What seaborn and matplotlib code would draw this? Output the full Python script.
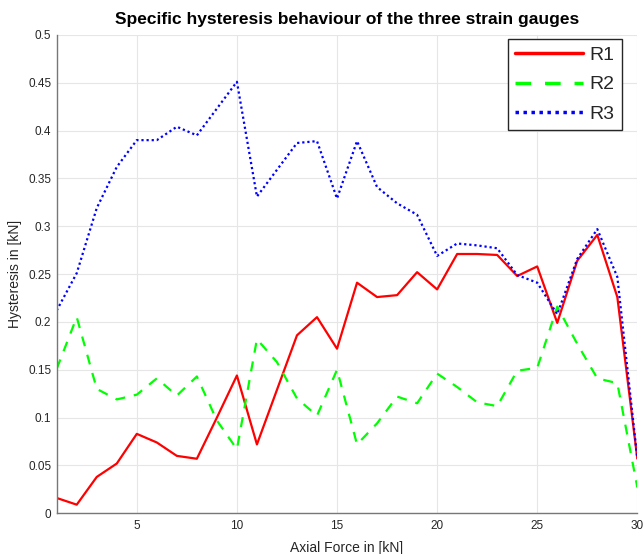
import numpy as np
import pandas as pd
import matplotlib
matplotlib.use("Agg")
import matplotlib.pyplot as plt
import seaborn as sns

force = list(range(1, 31))
r1 = [0.016, 0.009, 0.038, 0.052, 0.083, 0.074, 0.060, 0.057, 0.100, 0.144,
      0.072, 0.129, 0.186, 0.205, 0.172, 0.241, 0.226, 0.228, 0.252, 0.234,
      0.271, 0.271, 0.270, 0.248, 0.258, 0.199, 0.264, 0.291, 0.226, 0.057]
r2 = [0.151, 0.205, 0.130, 0.119, 0.124, 0.141, 0.123, 0.143, 0.097, 0.067,
      0.182, 0.158, 0.120, 0.102, 0.150, 0.072, 0.094, 0.122, 0.115, 0.146,
      0.132, 0.116, 0.112, 0.149, 0.152, 0.216, 0.177, 0.141, 0.136, 0.027]
r3 = [0.212, 0.251, 0.319, 0.362, 0.390, 0.390, 0.404, 0.395, 0.423, 0.451,
      0.331, 0.359, 0.387, 0.389, 0.329, 0.389, 0.341, 0.324, 0.312, 0.269,
      0.282, 0.280, 0.277, 0.249, 0.241, 0.208, 0.266, 0.297, 0.247, 0.057]
series_names = ["R1", "R2", "R3"]
x_ticks = [5, 10, 15, 20, 25, 30]
y_ticks = [0, 0.05, 0.1, 0.15, 0.2, 0.25, 0.3, 0.35, 0.4, 0.45, 0.5]
y_tick_labels = ["0", "0.05", "0.1", "0.15", "0.2", "0.25", "0.3", "0.35", "0.4", "0.45", "0.5"]

df = pd.DataFrame({
    "Force": force * 3,
    "Hysteresis": r1 + r2 + r3,
    "Gauge": [series_names[0]] * 30 + [series_names[1]] * 30 + [series_names[2]] * 30,
})

sns.set_theme(style="white")
plt.rcParams["font.family"] = ["Liberation Sans", "DejaVu Sans"]

fig = plt.figure(figsize=(6.43, 5.54), dpi=100)
ax = fig.add_axes([0.0882, 0.0735, 0.903, 0.8635])

palette = {"R1": "#ff0000", "R2": "#00ff00", "R3": "#0000ff"}
dashes = {"R1": "", "R2": (4.5, 4.0), "R3": (1.0, 1.3)}
sns.lineplot(data=df, x="Force", y="Hysteresis", hue="Gauge", style="Gauge",
             palette=palette, dashes=dashes, linewidth=1.6, ax=ax,
             legend=False)

ax.set_xlim(1, 30)
ax.set_ylim(0, 0.5)
ax.set_xticks(x_ticks)
ax.set_yticks(y_ticks)
ax.set_yticklabels(y_tick_labels)
ax.grid(True, color="#e6e6e6", linewidth=0.8)
ax.set_axisbelow(True)
for s in ["top", "right"]:
    ax.spines[s].set_visible(False)
for s in ["left", "bottom"]:
    ax.spines[s].set_color("#777777")
    ax.spines[s].set_linewidth(1.0)
ax.tick_params(axis="both", direction="in", length=3, width=0.8,
               colors="#777777", labelcolor="#262626", labelsize=8.5)
ax.tick_params(axis="x", pad=5)
ax.tick_params(axis="y", pad=4)
ax.set_xlabel("Axial Force in [kN]", fontsize=10, color="#262626", labelpad=6)
ax.set_ylabel("Hysteresis in [kN]", fontsize=10, color="#262626", labelpad=4)
ax.set_title("Specific hysteresis behaviour of the three strain gauges",
             fontsize=12.5, fontweight="bold", color="black", pad=8)

handles = ax.get_lines()[:3]
leg = ax.legend(handles, series_names, loc="upper right",
                bbox_to_anchor=(0.9737, 0.992), fontsize=14, handlelength=3.5,
                handletextpad=0.3, labelspacing=0.6, borderpad=0.4,
                borderaxespad=0.0,
                fancybox=False, framealpha=1, edgecolor="#262626")
leg.get_frame().set_linewidth(1.0)
for lh in leg.get_lines():
    lh.set_linewidth(2.5)

fig.savefig("out.png", dpi=100)
